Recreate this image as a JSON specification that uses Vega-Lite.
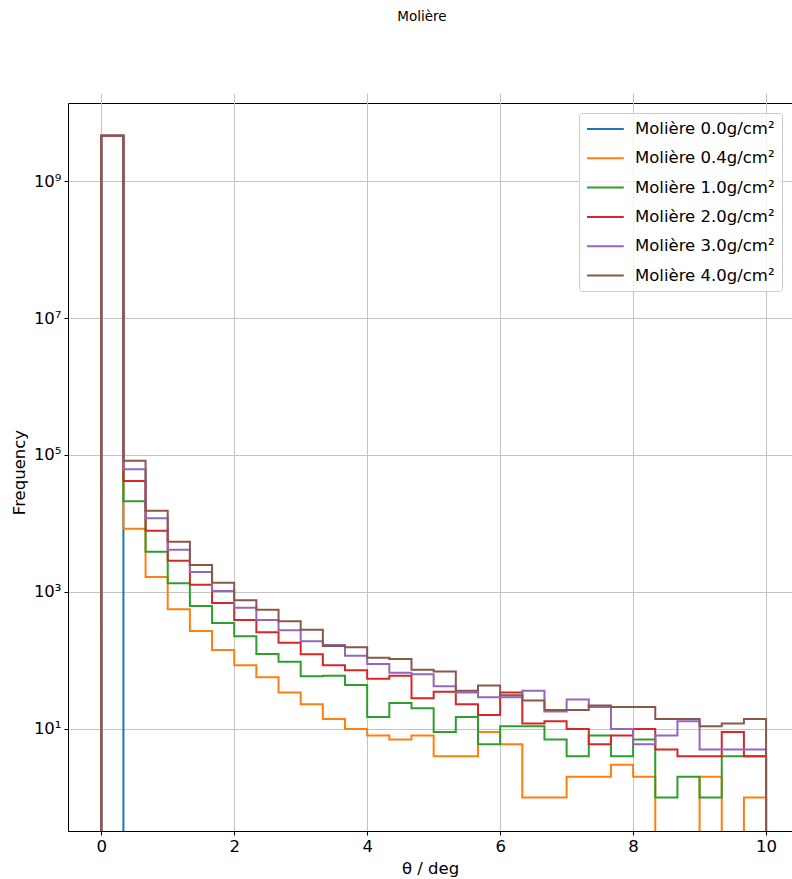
{
  "$schema": "https://vega.github.io/schema/vega-lite/v6.json",
  "autosize": "none",
  "padding": {"left": 68, "top": 103, "right": 0, "bottom": 48},
  "width": 724,
  "height": 728,
  "title": {"text": "Molière", "fontSize": 13.5, "fontWeight": "normal", "font": "DejaVu Sans", "anchor": "middle", "offset": 80, "dx": -8, "color": "#000"},
  "config": {
    "font": "DejaVu Sans",
    "view": {"stroke": "#000", "strokeWidth": 1},
    "mark": {"invalid": "show"},
    "axis": {"labelFont": "DejaVu Sans", "titleFont": "DejaVu Sans", "labelFontSize": 16.5, "titleFontSize": 16.5, "titleFontWeight": "normal", "labelColor": "#000", "titleColor": "#000", "tickColor": "#000", "domainColor": "#000", "tickSize": 4, "labelPadding": 3, "gridColor": "#c4c4c4", "gridWidth": 1, "domainWidth": 1, "tickWidth": 1}
  },
  "data": {"values": [
    {"s": "Molière 0.0g/cm²", "i": 0, "x": 0, "n": 0},
    {"s": "Molière 0.0g/cm²", "i": 1, "x": 0, "n": 4580000000},
    {"s": "Molière 0.0g/cm²", "i": 2, "x": 0.3333, "n": 0},
    {"s": "Molière 0.0g/cm²", "i": 3, "x": 0.6667, "n": 0},
    {"s": "Molière 0.0g/cm²", "i": 4, "x": 1.0, "n": 0},
    {"s": "Molière 0.0g/cm²", "i": 5, "x": 1.3333, "n": 0},
    {"s": "Molière 0.0g/cm²", "i": 6, "x": 1.6667, "n": 0},
    {"s": "Molière 0.0g/cm²", "i": 7, "x": 2.0, "n": 0},
    {"s": "Molière 0.0g/cm²", "i": 8, "x": 2.3333, "n": 0},
    {"s": "Molière 0.0g/cm²", "i": 9, "x": 2.6667, "n": 0},
    {"s": "Molière 0.0g/cm²", "i": 10, "x": 3.0, "n": 0},
    {"s": "Molière 0.0g/cm²", "i": 11, "x": 3.3333, "n": 0},
    {"s": "Molière 0.0g/cm²", "i": 12, "x": 3.6667, "n": 0},
    {"s": "Molière 0.0g/cm²", "i": 13, "x": 4.0, "n": 0},
    {"s": "Molière 0.0g/cm²", "i": 14, "x": 4.3333, "n": 0},
    {"s": "Molière 0.0g/cm²", "i": 15, "x": 4.6667, "n": 0},
    {"s": "Molière 0.0g/cm²", "i": 16, "x": 5.0, "n": 0},
    {"s": "Molière 0.0g/cm²", "i": 17, "x": 5.3333, "n": 0},
    {"s": "Molière 0.0g/cm²", "i": 18, "x": 5.6667, "n": 0},
    {"s": "Molière 0.0g/cm²", "i": 19, "x": 6.0, "n": 0},
    {"s": "Molière 0.0g/cm²", "i": 20, "x": 6.3333, "n": 0},
    {"s": "Molière 0.0g/cm²", "i": 21, "x": 6.6667, "n": 0},
    {"s": "Molière 0.0g/cm²", "i": 22, "x": 7.0, "n": 0},
    {"s": "Molière 0.0g/cm²", "i": 23, "x": 7.3333, "n": 0},
    {"s": "Molière 0.0g/cm²", "i": 24, "x": 7.6667, "n": 0},
    {"s": "Molière 0.0g/cm²", "i": 25, "x": 8.0, "n": 0},
    {"s": "Molière 0.0g/cm²", "i": 26, "x": 8.3333, "n": 0},
    {"s": "Molière 0.0g/cm²", "i": 27, "x": 8.6667, "n": 0},
    {"s": "Molière 0.0g/cm²", "i": 28, "x": 9.0, "n": 0},
    {"s": "Molière 0.0g/cm²", "i": 29, "x": 9.3333, "n": 0},
    {"s": "Molière 0.0g/cm²", "i": 30, "x": 9.6667, "n": 0},
    {"s": "Molière 0.0g/cm²", "i": 31, "x": 10.0, "n": 0},

    {"s": "Molière 0.4g/cm²", "i": 0, "x": 0, "n": 0},
    {"s": "Molière 0.4g/cm²", "i": 1, "x": 0, "n": 4580000000},
    {"s": "Molière 0.4g/cm²", "i": 2, "x": 0.3333, "n": 8400},
    {"s": "Molière 0.4g/cm²", "i": 3, "x": 0.6667, "n": 1655},
    {"s": "Molière 0.4g/cm²", "i": 4, "x": 1.0, "n": 559},
    {"s": "Molière 0.4g/cm²", "i": 5, "x": 1.3333, "n": 270},
    {"s": "Molière 0.4g/cm²", "i": 6, "x": 1.6667, "n": 142},
    {"s": "Molière 0.4g/cm²", "i": 7, "x": 2.0, "n": 85},
    {"s": "Molière 0.4g/cm²", "i": 8, "x": 2.3333, "n": 57},
    {"s": "Molière 0.4g/cm²", "i": 9, "x": 2.6667, "n": 34},
    {"s": "Molière 0.4g/cm²", "i": 10, "x": 3.0, "n": 23},
    {"s": "Molière 0.4g/cm²", "i": 11, "x": 3.3333, "n": 14},
    {"s": "Molière 0.4g/cm²", "i": 12, "x": 3.6667, "n": 10},
    {"s": "Molière 0.4g/cm²", "i": 13, "x": 4.0, "n": 8},
    {"s": "Molière 0.4g/cm²", "i": 14, "x": 4.3333, "n": 7},
    {"s": "Molière 0.4g/cm²", "i": 15, "x": 4.6667, "n": 8},
    {"s": "Molière 0.4g/cm²", "i": 16, "x": 5.0, "n": 4},
    {"s": "Molière 0.4g/cm²", "i": 17, "x": 5.3333, "n": 4},
    {"s": "Molière 0.4g/cm²", "i": 18, "x": 5.6667, "n": 9},
    {"s": "Molière 0.4g/cm²", "i": 19, "x": 6.0, "n": 6},
    {"s": "Molière 0.4g/cm²", "i": 20, "x": 6.3333, "n": 1},
    {"s": "Molière 0.4g/cm²", "i": 21, "x": 6.6667, "n": 1},
    {"s": "Molière 0.4g/cm²", "i": 22, "x": 7.0, "n": 2},
    {"s": "Molière 0.4g/cm²", "i": 23, "x": 7.3333, "n": 2},
    {"s": "Molière 0.4g/cm²", "i": 24, "x": 7.6667, "n": 3},
    {"s": "Molière 0.4g/cm²", "i": 25, "x": 8.0, "n": 2},
    {"s": "Molière 0.4g/cm²", "i": 26, "x": 8.3333, "n": 0},
    {"s": "Molière 0.4g/cm²", "i": 27, "x": 8.6667, "n": 0},
    {"s": "Molière 0.4g/cm²", "i": 28, "x": 9.0, "n": 2},
    {"s": "Molière 0.4g/cm²", "i": 29, "x": 9.3333, "n": 0},
    {"s": "Molière 0.4g/cm²", "i": 30, "x": 9.6667, "n": 1},
    {"s": "Molière 0.4g/cm²", "i": 31, "x": 10.0, "n": 0},

    {"s": "Molière 1.0g/cm²", "i": 0, "x": 0, "n": 0},
    {"s": "Molière 1.0g/cm²", "i": 1, "x": 0, "n": 4580000000},
    {"s": "Molière 1.0g/cm²", "i": 2, "x": 0.3333, "n": 21100},
    {"s": "Molière 1.0g/cm²", "i": 3, "x": 0.6667, "n": 3870},
    {"s": "Molière 1.0g/cm²", "i": 4, "x": 1.0, "n": 1340},
    {"s": "Molière 1.0g/cm²", "i": 5, "x": 1.3333, "n": 625},
    {"s": "Molière 1.0g/cm²", "i": 6, "x": 1.6667, "n": 352},
    {"s": "Molière 1.0g/cm²", "i": 7, "x": 2.0, "n": 225},
    {"s": "Molière 1.0g/cm²", "i": 8, "x": 2.3333, "n": 124},
    {"s": "Molière 1.0g/cm²", "i": 9, "x": 2.6667, "n": 96},
    {"s": "Molière 1.0g/cm²", "i": 10, "x": 3.0, "n": 59},
    {"s": "Molière 1.0g/cm²", "i": 11, "x": 3.3333, "n": 60},
    {"s": "Molière 1.0g/cm²", "i": 12, "x": 3.6667, "n": 44},
    {"s": "Molière 1.0g/cm²", "i": 13, "x": 4.0, "n": 15},
    {"s": "Molière 1.0g/cm²", "i": 14, "x": 4.3333, "n": 24},
    {"s": "Molière 1.0g/cm²", "i": 15, "x": 4.6667, "n": 20},
    {"s": "Molière 1.0g/cm²", "i": 16, "x": 5.0, "n": 9},
    {"s": "Molière 1.0g/cm²", "i": 17, "x": 5.3333, "n": 15},
    {"s": "Molière 1.0g/cm²", "i": 18, "x": 5.6667, "n": 6},
    {"s": "Molière 1.0g/cm²", "i": 19, "x": 6.0, "n": 11},
    {"s": "Molière 1.0g/cm²", "i": 20, "x": 6.3333, "n": 11},
    {"s": "Molière 1.0g/cm²", "i": 21, "x": 6.6667, "n": 7},
    {"s": "Molière 1.0g/cm²", "i": 22, "x": 7.0, "n": 4},
    {"s": "Molière 1.0g/cm²", "i": 23, "x": 7.3333, "n": 8},
    {"s": "Molière 1.0g/cm²", "i": 24, "x": 7.6667, "n": 4},
    {"s": "Molière 1.0g/cm²", "i": 25, "x": 8.0, "n": 7},
    {"s": "Molière 1.0g/cm²", "i": 26, "x": 8.3333, "n": 1},
    {"s": "Molière 1.0g/cm²", "i": 27, "x": 8.6667, "n": 2},
    {"s": "Molière 1.0g/cm²", "i": 28, "x": 9.0, "n": 1},
    {"s": "Molière 1.0g/cm²", "i": 29, "x": 9.3333, "n": 4},
    {"s": "Molière 1.0g/cm²", "i": 30, "x": 9.6667, "n": 4},
    {"s": "Molière 1.0g/cm²", "i": 31, "x": 10.0, "n": 0},

    {"s": "Molière 2.0g/cm²", "i": 0, "x": 0, "n": 0},
    {"s": "Molière 2.0g/cm²", "i": 1, "x": 0, "n": 4580000000},
    {"s": "Molière 2.0g/cm²", "i": 2, "x": 0.3333, "n": 41700},
    {"s": "Molière 2.0g/cm²", "i": 3, "x": 0.6667, "n": 7850},
    {"s": "Molière 2.0g/cm²", "i": 4, "x": 1.0, "n": 2865},
    {"s": "Molière 2.0g/cm²", "i": 5, "x": 1.3333, "n": 1280},
    {"s": "Molière 2.0g/cm²", "i": 6, "x": 1.6667, "n": 691},
    {"s": "Molière 2.0g/cm²", "i": 7, "x": 2.0, "n": 390},
    {"s": "Molière 2.0g/cm²", "i": 8, "x": 2.3333, "n": 258},
    {"s": "Molière 2.0g/cm²", "i": 9, "x": 2.6667, "n": 182},
    {"s": "Molière 2.0g/cm²", "i": 10, "x": 3.0, "n": 123},
    {"s": "Molière 2.0g/cm²", "i": 11, "x": 3.3333, "n": 85},
    {"s": "Molière 2.0g/cm²", "i": 12, "x": 3.6667, "n": 72},
    {"s": "Molière 2.0g/cm²", "i": 13, "x": 4.0, "n": 54},
    {"s": "Molière 2.0g/cm²", "i": 14, "x": 4.3333, "n": 60},
    {"s": "Molière 2.0g/cm²", "i": 15, "x": 4.6667, "n": 28},
    {"s": "Molière 2.0g/cm²", "i": 16, "x": 5.0, "n": 35},
    {"s": "Molière 2.0g/cm²", "i": 17, "x": 5.3333, "n": 23},
    {"s": "Molière 2.0g/cm²", "i": 18, "x": 5.6667, "n": 16},
    {"s": "Molière 2.0g/cm²", "i": 19, "x": 6.0, "n": 34},
    {"s": "Molière 2.0g/cm²", "i": 20, "x": 6.3333, "n": 12},
    {"s": "Molière 2.0g/cm²", "i": 21, "x": 6.6667, "n": 13},
    {"s": "Molière 2.0g/cm²", "i": 22, "x": 7.0, "n": 10},
    {"s": "Molière 2.0g/cm²", "i": 23, "x": 7.3333, "n": 6},
    {"s": "Molière 2.0g/cm²", "i": 24, "x": 7.6667, "n": 8},
    {"s": "Molière 2.0g/cm²", "i": 25, "x": 8.0, "n": 10},
    {"s": "Molière 2.0g/cm²", "i": 26, "x": 8.3333, "n": 5},
    {"s": "Molière 2.0g/cm²", "i": 27, "x": 8.6667, "n": 4},
    {"s": "Molière 2.0g/cm²", "i": 28, "x": 9.0, "n": 4},
    {"s": "Molière 2.0g/cm²", "i": 29, "x": 9.3333, "n": 9},
    {"s": "Molière 2.0g/cm²", "i": 30, "x": 9.6667, "n": 4},
    {"s": "Molière 2.0g/cm²", "i": 31, "x": 10.0, "n": 0},

    {"s": "Molière 3.0g/cm²", "i": 0, "x": 0, "n": 0},
    {"s": "Molière 3.0g/cm²", "i": 1, "x": 0, "n": 4580000000},
    {"s": "Molière 3.0g/cm²", "i": 2, "x": 0.3333, "n": 61800},
    {"s": "Molière 3.0g/cm²", "i": 3, "x": 0.6667, "n": 11900},
    {"s": "Molière 3.0g/cm²", "i": 4, "x": 1.0, "n": 4150},
    {"s": "Molière 3.0g/cm²", "i": 5, "x": 1.3333, "n": 1960},
    {"s": "Molière 3.0g/cm²", "i": 6, "x": 1.6667, "n": 1035},
    {"s": "Molière 3.0g/cm²", "i": 7, "x": 2.0, "n": 590},
    {"s": "Molière 3.0g/cm²", "i": 8, "x": 2.3333, "n": 390},
    {"s": "Molière 3.0g/cm²", "i": 9, "x": 2.6667, "n": 276},
    {"s": "Molière 3.0g/cm²", "i": 10, "x": 3.0, "n": 191},
    {"s": "Molière 3.0g/cm²", "i": 11, "x": 3.3333, "n": 168},
    {"s": "Molière 3.0g/cm²", "i": 12, "x": 3.6667, "n": 117},
    {"s": "Molière 3.0g/cm²", "i": 13, "x": 4.0, "n": 89},
    {"s": "Molière 3.0g/cm²", "i": 14, "x": 4.3333, "n": 66},
    {"s": "Molière 3.0g/cm²", "i": 15, "x": 4.6667, "n": 63},
    {"s": "Molière 3.0g/cm²", "i": 16, "x": 5.0, "n": 42},
    {"s": "Molière 3.0g/cm²", "i": 17, "x": 5.3333, "n": 34},
    {"s": "Molière 3.0g/cm²", "i": 18, "x": 5.6667, "n": 29},
    {"s": "Molière 3.0g/cm²", "i": 19, "x": 6.0, "n": 29},
    {"s": "Molière 3.0g/cm²", "i": 20, "x": 6.3333, "n": 36},
    {"s": "Molière 3.0g/cm²", "i": 21, "x": 6.6667, "n": 18},
    {"s": "Molière 3.0g/cm²", "i": 22, "x": 7.0, "n": 27},
    {"s": "Molière 3.0g/cm²", "i": 23, "x": 7.3333, "n": 21},
    {"s": "Molière 3.0g/cm²", "i": 24, "x": 7.6667, "n": 10},
    {"s": "Molière 3.0g/cm²", "i": 25, "x": 8.0, "n": 6},
    {"s": "Molière 3.0g/cm²", "i": 26, "x": 8.3333, "n": 8},
    {"s": "Molière 3.0g/cm²", "i": 27, "x": 8.6667, "n": 13},
    {"s": "Molière 3.0g/cm²", "i": 28, "x": 9.0, "n": 5},
    {"s": "Molière 3.0g/cm²", "i": 29, "x": 9.3333, "n": 5},
    {"s": "Molière 3.0g/cm²", "i": 30, "x": 9.6667, "n": 5},
    {"s": "Molière 3.0g/cm²", "i": 31, "x": 10.0, "n": 0},

    {"s": "Molière 4.0g/cm²", "i": 0, "x": 0, "n": 0},
    {"s": "Molière 4.0g/cm²", "i": 1, "x": 0, "n": 4580000000},
    {"s": "Molière 4.0g/cm²", "i": 2, "x": 0.3333, "n": 82600},
    {"s": "Molière 4.0g/cm²", "i": 3, "x": 0.6667, "n": 15400},
    {"s": "Molière 4.0g/cm²", "i": 4, "x": 1.0, "n": 5420},
    {"s": "Molière 4.0g/cm²", "i": 5, "x": 1.3333, "n": 2480},
    {"s": "Molière 4.0g/cm²", "i": 6, "x": 1.6667, "n": 1368},
    {"s": "Molière 4.0g/cm²", "i": 7, "x": 2.0, "n": 756},
    {"s": "Molière 4.0g/cm²", "i": 8, "x": 2.3333, "n": 552},
    {"s": "Molière 4.0g/cm²", "i": 9, "x": 2.6667, "n": 373},
    {"s": "Molière 4.0g/cm²", "i": 10, "x": 3.0, "n": 282},
    {"s": "Molière 4.0g/cm²", "i": 11, "x": 3.3333, "n": 163},
    {"s": "Molière 4.0g/cm²", "i": 12, "x": 3.6667, "n": 156},
    {"s": "Molière 4.0g/cm²", "i": 13, "x": 4.0, "n": 110},
    {"s": "Molière 4.0g/cm²", "i": 14, "x": 4.3333, "n": 105},
    {"s": "Molière 4.0g/cm²", "i": 15, "x": 4.6667, "n": 73},
    {"s": "Molière 4.0g/cm²", "i": 16, "x": 5.0, "n": 69},
    {"s": "Molière 4.0g/cm²", "i": 17, "x": 5.3333, "n": 36},
    {"s": "Molière 4.0g/cm²", "i": 18, "x": 5.6667, "n": 43},
    {"s": "Molière 4.0g/cm²", "i": 19, "x": 6.0, "n": 31},
    {"s": "Molière 4.0g/cm²", "i": 20, "x": 6.3333, "n": 26},
    {"s": "Molière 4.0g/cm²", "i": 21, "x": 6.6667, "n": 19},
    {"s": "Molière 4.0g/cm²", "i": 22, "x": 7.0, "n": 19},
    {"s": "Molière 4.0g/cm²", "i": 23, "x": 7.3333, "n": 22},
    {"s": "Molière 4.0g/cm²", "i": 24, "x": 7.6667, "n": 21},
    {"s": "Molière 4.0g/cm²", "i": 25, "x": 8.0, "n": 21},
    {"s": "Molière 4.0g/cm²", "i": 26, "x": 8.3333, "n": 14},
    {"s": "Molière 4.0g/cm²", "i": 27, "x": 8.6667, "n": 14},
    {"s": "Molière 4.0g/cm²", "i": 28, "x": 9.0, "n": 11},
    {"s": "Molière 4.0g/cm²", "i": 29, "x": 9.3333, "n": 12},
    {"s": "Molière 4.0g/cm²", "i": 30, "x": 9.6667, "n": 14},
    {"s": "Molière 4.0g/cm²", "i": 31, "x": 10.0, "n": 0}
  ]},
  "mark": {"type": "line", "interpolate": "step-after", "strokeWidth": 2, "clip": true},
  "encoding": {
    "x": {"field": "x", "type": "quantitative",
      "scale": {"domain": [-0.5, 10.39], "nice": false, "zero": false},
      "axis": {"values": [0, 2, 4, 6, 8, 10], "title": "θ / deg", "titlePadding": 6, "grid": true}},
    "y": {"field": "n", "type": "quantitative",
      "scale": {"type": "log", "domain": [0.2314, 13770000000], "range": [738, 0], "nice": false, "clamp": true},
      "axis": {"values": [10, 1000, 100000, 10000000, 1000000000], "title": "Frequency", "titlePadding": 6, "grid": true, "domain": false,
        "labelExpr": "'10' + ['⁰','¹','²','³','⁴','⁵','⁶','⁷','⁸','⁹'][round(log(datum.value)/LN10)]"}},
    "order": {"field": "i", "type": "quantitative"},
    "color": {"field": "s", "type": "nominal",
      "scale": {"domain": ["Molière 0.0g/cm²", "Molière 0.4g/cm²", "Molière 1.0g/cm²", "Molière 2.0g/cm²", "Molière 3.0g/cm²", "Molière 4.0g/cm²"],
        "range": ["#1f77b4", "#ff7f0e", "#2ca02c", "#d62728", "#9467bd", "#8c564b"]},
      "legend": {"title": null, "orient": "none", "legendX": 511, "legendY": 10, "symbolType": "M-1,0H3.6", "symbolSize": 256, "symbolStrokeWidth": 2,
        "labelFontSize": 16.5, "labelFont": "DejaVu Sans", "labelColor": "#000", "labelOffset": 31, "rowPadding": 11.3, "padding": 7,
        "strokeColor": "#cccccc", "fillColor": "rgba(255,255,255,0.8)", "cornerRadius": 3}}
  }
}
